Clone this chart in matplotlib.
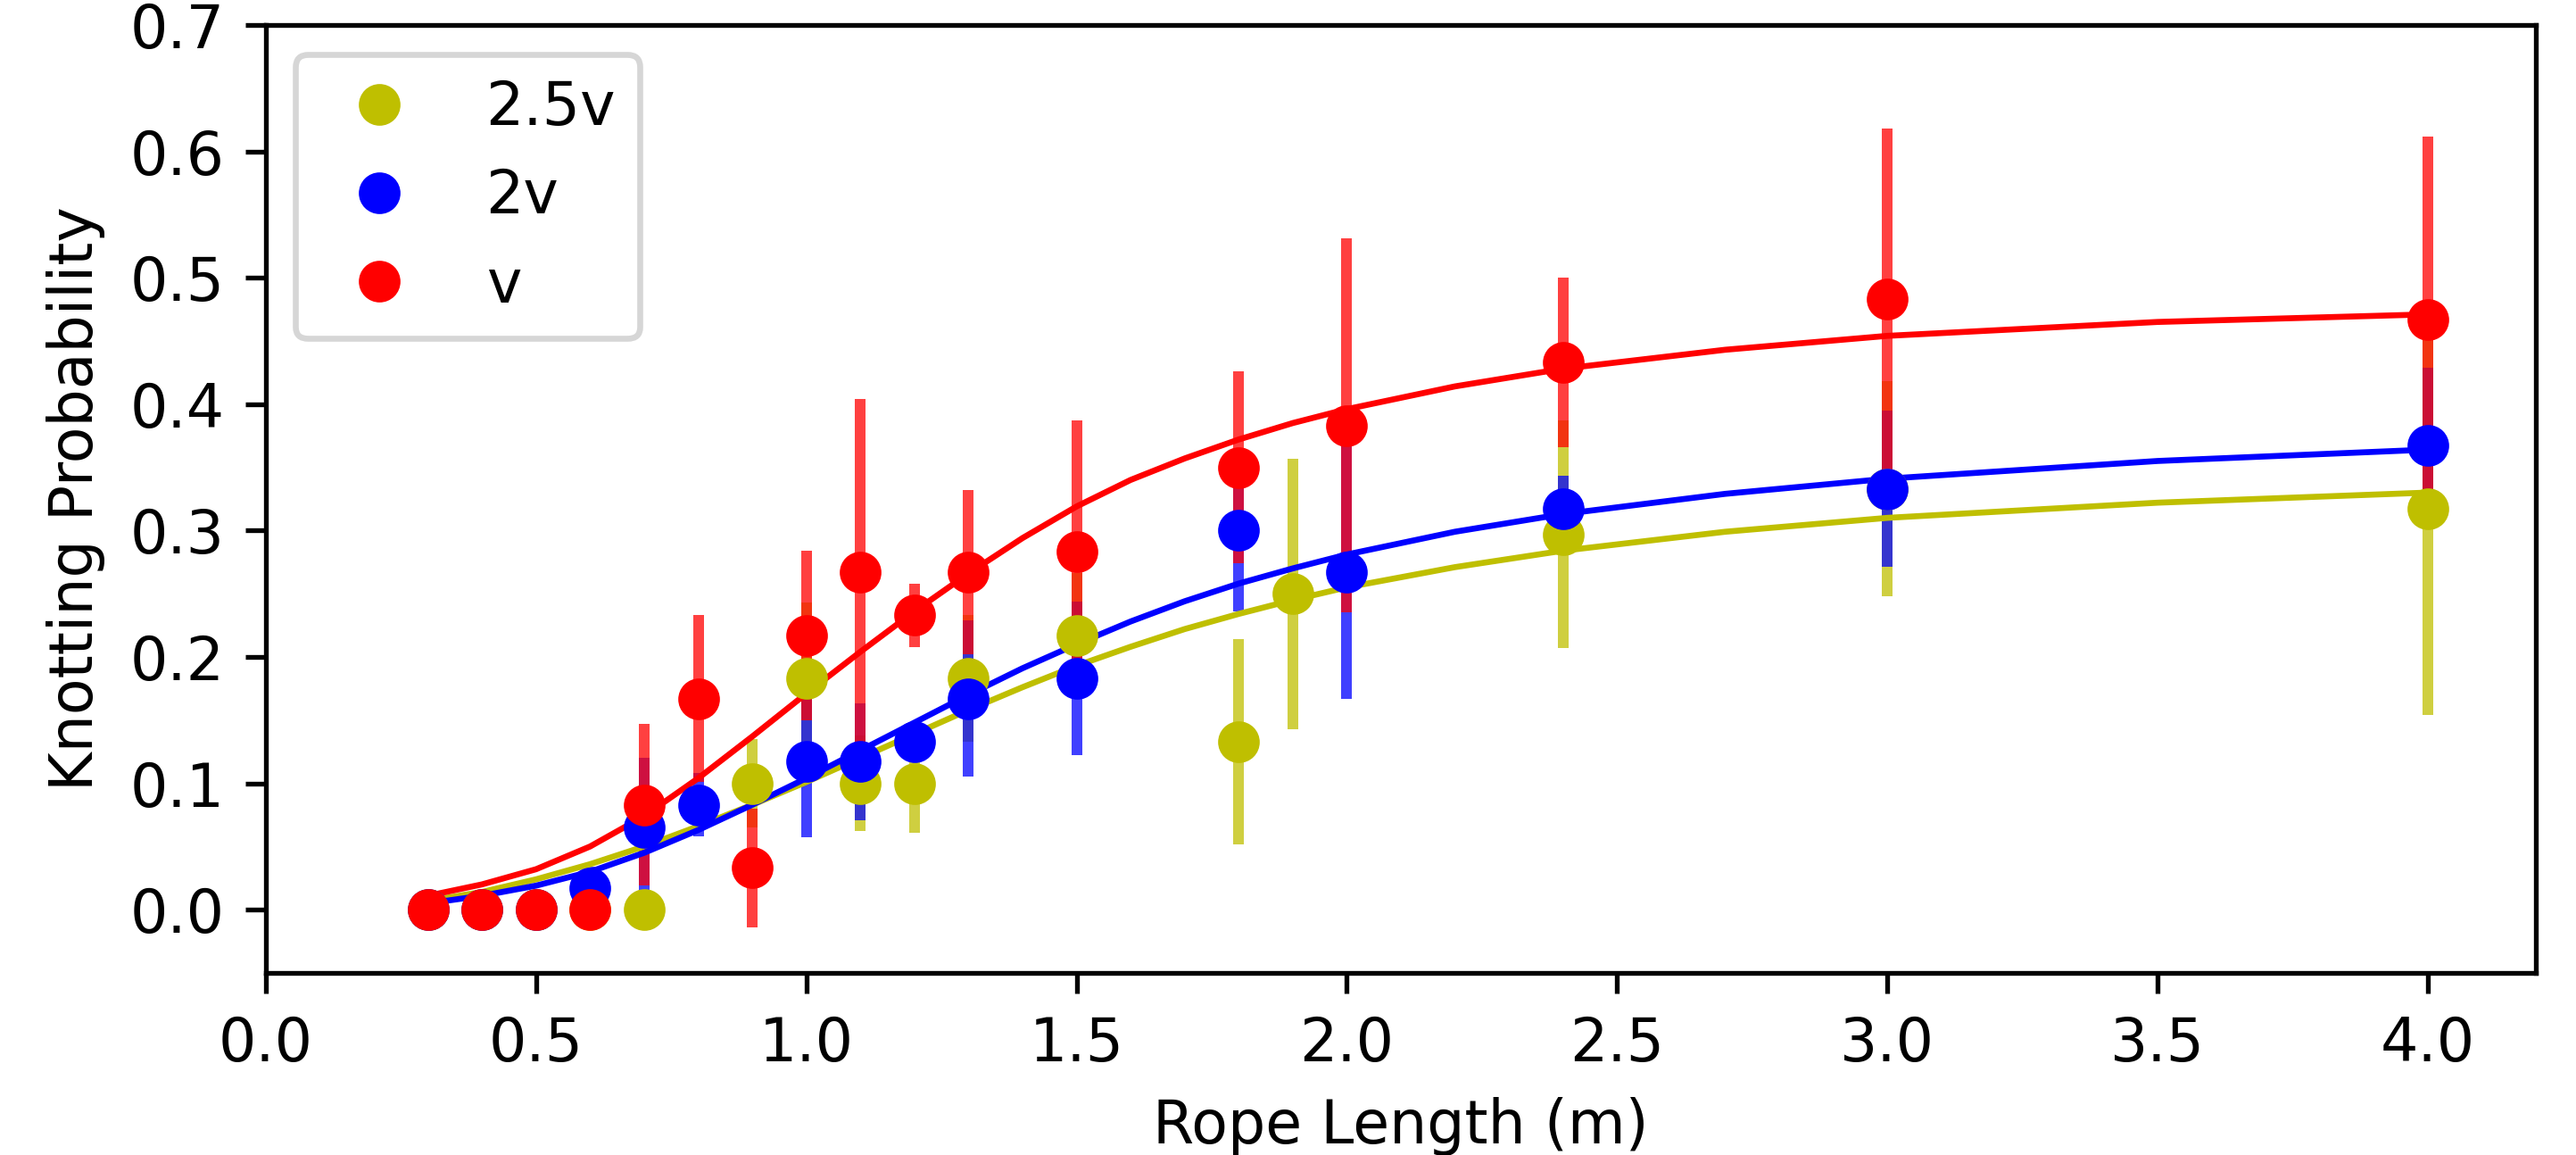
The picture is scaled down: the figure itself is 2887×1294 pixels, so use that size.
import matplotlib
matplotlib.use("Agg")
import matplotlib.pyplot as plt

# --- data ------------------------------------------------------------------
# v (red)
x_v = [0.3, 0.4, 0.5, 0.6, 0.7, 0.8, 0.9, 1.0, 1.1, 1.2, 1.3, 1.5, 1.8, 2.0, 2.4, 3.0, 4.0]
p_v = [0.0, 0.0, 0.0, 0.0, 0.083, 0.167, 0.033, 0.217, 0.267, 0.233, 0.267, 0.283,
       0.350, 0.383, 0.433, 0.483, 0.467]
err_v = [0.0, 0.0, 0.0, 0.0, 0.064, 0.066, 0.047, 0.067, 0.137, 0.025, 0.065, 0.104,
         0.076, 0.148, 0.067, 0.135, 0.145]

# 2v (blue)
x_2v = [0.3, 0.4, 0.5, 0.6, 0.7, 0.8, 1.0, 1.1, 1.2, 1.3, 1.5, 1.8, 2.0, 2.4, 3.0, 4.0]
p_2v = [0.0, 0.0, 0.0, 0.017, 0.065, 0.083, 0.117, 0.117, 0.133, 0.167, 0.183, 0.300,
        0.267, 0.317, 0.333, 0.367]
err_2v = [0.0, 0.0, 0.0, 0.017, 0.055, 0.025, 0.060, 0.046, 0.012, 0.062, 0.061, 0.064,
          0.100, 0.026, 0.062, 0.062]

# 2.5v (yellow)
x_25v = [0.3, 0.4, 0.5, 0.6, 0.7, 0.9, 1.0, 1.1, 1.2, 1.3, 1.5, 1.8, 1.9, 2.4, 3.0, 4.0]
p_25v = [0.0, 0.0, 0.0, 0.0, 0.0, 0.100, 0.183, 0.100, 0.100, 0.183, 0.217, 0.133,
         0.250, 0.297, 0.333, 0.317]
err_25v = [0.0, 0.0, 0.0, 0.0, 0.0, 0.035, 0.060, 0.038, 0.039, 0.050, 0.049, 0.081,
           0.107, 0.090, 0.085, 0.163]

# fitted curves
fit_x = [0.3, 0.4, 0.5, 0.6, 0.7, 0.8, 0.9, 1.0, 1.1, 1.2, 1.3, 1.4, 1.5, 1.6,
         1.7, 1.8, 1.9, 2.0, 2.2, 2.4, 2.7, 3.0, 3.5, 4.0]
fit_v = [0.011, 0.020, 0.032, 0.050, 0.074, 0.104, 0.137, 0.171, 0.204, 0.236, 0.266,
         0.294, 0.319, 0.340, 0.357, 0.372, 0.385, 0.396, 0.414, 0.428, 0.443, 0.454,
         0.465, 0.471]
fit_2v = [0.005, 0.011, 0.019, 0.030, 0.045, 0.063, 0.083, 0.104, 0.126, 0.148, 0.170,
          0.191, 0.210, 0.228, 0.244, 0.258, 0.270, 0.281, 0.299, 0.313, 0.329, 0.341,
          0.355, 0.364]
fit_25v = [0.007, 0.014, 0.024, 0.036, 0.050, 0.066, 0.083, 0.101, 0.120, 0.139, 0.158,
           0.176, 0.193, 0.208, 0.222, 0.234, 0.245, 0.255, 0.271, 0.284, 0.299, 0.310,
           0.322, 0.330]

series = [
    ("2.5v", "y", x_25v, p_25v, err_25v, fit_25v),
    ("2v", "b", x_2v, p_2v, err_2v, fit_2v),
    ("v", "r", x_v, p_v, err_v, fit_v),
]

fig = plt.figure(figsize=(2887 / 480, 1294 / 480), dpi=480)
ax = fig.add_axes([0.1032, 0.1577, 0.8812, 0.8207])

for label, color, x, p, err, fit in series:
    # barres d'erreur sous les courbes et les points
    ax.errorbar(x, p, yerr=err, fmt="none", ecolor=color, elinewidth=1.8,
                alpha=0.75, zorder=1)
    ax.plot(fit_x, fit, color=color, linewidth=1, zorder=2)
    ax.plot(x, p, "o", color=color, label=label, zorder=3)

ax.set_xlim(0, 4.2)
ax.set_ylim(-0.05, 0.7)
ax.set_xticks([0.0, 0.5, 1.0, 1.5, 2.0, 2.5, 3.0, 3.5, 4.0])
ax.set_yticks([0.0, 0.1, 0.2, 0.3, 0.4, 0.5, 0.6, 0.7])
ax.set_xlabel("Rope Length (m)")
ax.set_ylabel("Knotting Probability")
ax.legend(loc="upper left")

fig.savefig("out.png", dpi=480)
